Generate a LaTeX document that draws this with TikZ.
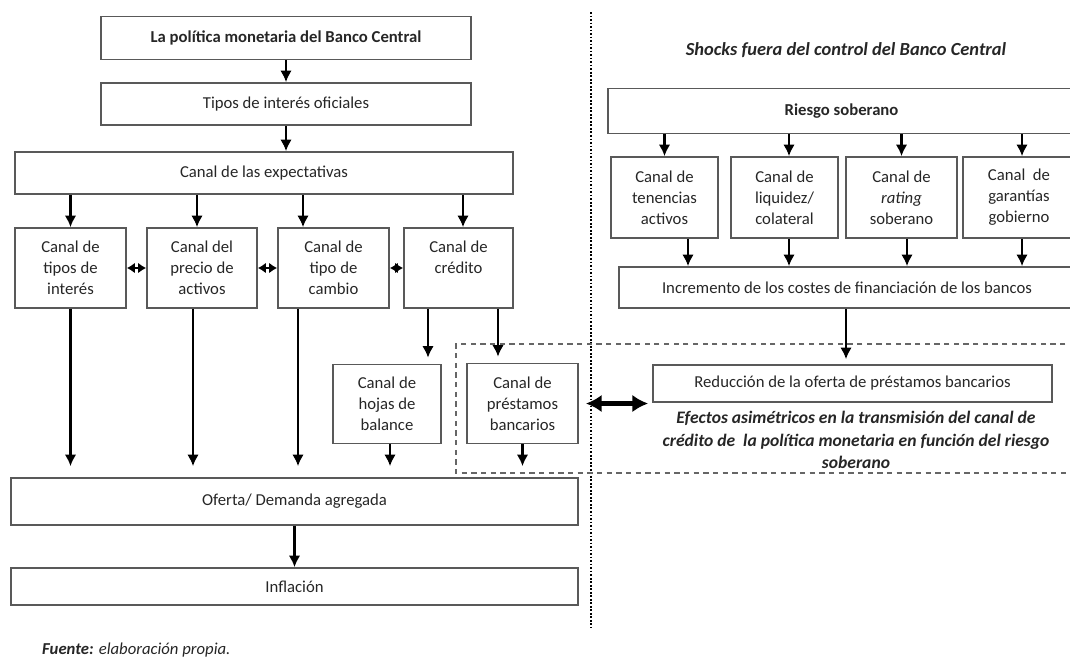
\documentclass[tikz,border=0pt]{standalone}
\usepackage{fontspec}
\setmainfont{Carlito}
\usetikzlibrary{arrows.meta}

\tikzset{
  box/.style={draw=black!65, line width=1pt, align=center, inner sep=2pt,
    text=black!85, font=\fontsize{9.5}{12}\selectfont},
  boldbox/.style={box, font=\fontsize{9.5}{12}\selectfont\bfseries},
  arr/.style={-{Latex[length=6.5pt,width=6.5pt]}, line width=1.2pt},
  dblarr/.style={{Latex[length=4.5pt,width=6pt]}-{Latex[length=4.5pt,width=6pt]}, line width=1.2pt},
  bigarr/.style={{Latex[length=9pt,width=10pt]}-{Latex[length=9pt,width=10pt]}, line width=2.4pt},
  dashbox/.style={black!60, line width=1pt, dash pattern=on 3pt off 2.5pt},
  note/.style={align=center, text=black!85, font=\fontsize{10}{13}\selectfont\bfseries\itshape}
}

\begin{document}
\begin{tikzpicture}[x=0.02cm, y=-0.02cm]
\useasboundingbox (0,0) rectangle (1070,657);
\clip (0,0) rectangle (1070,657);

% left part: policy channels
\node[boldbox, minimum width=7.4cm, minimum height=0.86cm] (bc) at (286,38) {La política monetaria del Banco Central};
\node[box, minimum width=7.4cm, minimum height=0.84cm] (tio) at (286,104) {Tipos de interés oficiales};
\node[box, minimum width=9.96cm, minimum height=0.84cm] (exp) at (264,173) {Canal de las expectativas};

\node[box, minimum width=2.22cm, minimum height=1.6cm] (ctipos) at (70.5,268) {Canal de\\tipos de\\interés};
\node[box, minimum width=2.2cm, minimum height=1.6cm] (cprecio) at (202,268) {Canal del\\precio de\\activos};
\node[box, minimum width=2.22cm, minimum height=1.6cm] (ccambio) at (333.5,268) {Canal de\\tipo de\\cambio};
\node[box, minimum width=2.18cm, minimum height=1.6cm] (ccredito) at (458.5,268) {Canal de\\crédito\\\mbox{}};

\node[box, minimum width=2.16cm, minimum height=1.58cm] (hojas) at (387,404) {Canal de\\hojas de\\balance};
\node[box, minimum width=2.22cm, minimum height=1.6cm] (prestamos) at (522.5,403.5) {Canal de\\préstamos\\bancarios};

\node[box, minimum width=11.34cm, minimum height=0.94cm] (oferta) at (294.5,501.5) {Oferta/ Demanda agregada};
\node[box, minimum width=11.34cm, minimum height=0.74cm] (inflacion) at (294.5,586.5) {Inflación};

\node[anchor=west, text=black!85, font=\fontsize{9.5}{12}\selectfont\itshape] (fuente) at (36,650) {\textbf{Fuente:} elaboración propia.};

\draw[arr] (bc) -- (tio);
\draw[arr] (tio.south) -- (tio.south |- exp.north);
\draw[arr] (exp.south -| ctipos.north) -- (ctipos.north);
\draw[arr] ([xshift=-0.1cm]cprecio.north |- exp.south) -- ([xshift=-0.1cm]cprecio.north);
\draw[arr] ([xshift=-0.61cm]ccambio.north |- exp.south) -- ([xshift=-0.61cm]ccambio.north);
\draw[arr] ([xshift=0.09cm]ccredito.north |- exp.south) -- ([xshift=0.09cm]ccredito.north);

\draw[dblarr] (ctipos) -- (cprecio);
\draw[dblarr] (cprecio) -- (ccambio);
\draw[dblarr] (ccambio) -- (ccredito);

\draw[arr, shorten >=0.22cm] (ctipos.south) -- (ctipos.south |- oferta.north);
\draw[arr, shorten >=0.22cm] ([xshift=-0.18cm]cprecio.south) -- ([xshift=-0.18cm]cprecio.south |- oferta.north);
\draw[arr, shorten >=0.22cm] ([xshift=-0.71cm]ccambio.south) -- ([xshift=-0.71cm]ccambio.south |- oferta.north);
\draw[arr, shorten >=0.12cm] ([xshift=-0.61cm]ccredito.south) -- ([xshift=-0.61cm]ccredito.south |- hojas.north);
\draw[arr, shorten >=0.12cm] ([xshift=0.79cm]ccredito.south) -- ([xshift=0.79cm]ccredito.south |- prestamos.north);
\draw[arr, shorten >=0.22cm] ([xshift=0.06cm]hojas.south) -- ([xshift=0.06cm]hojas.south |- oferta.north);
\draw[arr, shorten >=0.22cm] (prestamos.south) -- (prestamos.south |- oferta.north);
\draw[arr] (oferta) -- (inflacion);

% separation line
\draw[line width=1pt, densely dotted] (591,12) -- (591,627);

% right part: sovereign risk shocks
\node[note, font=\fontsize{10.5}{13}\selectfont\bfseries\itshape] (shocks) at (846,50) {Shocks fuera del control del Banco Central};
\node[boldbox, minimum width=9.34cm, minimum height=0.9cm] (riesgo) at (841.5,111) {Riesgo soberano};

\node[box, minimum width=2.14cm, minimum height=1.62cm] (tenencias) at (664.5,197.5) {Canal de\\tenencias\\activos};
\node[box, minimum width=2.14cm, minimum height=1.62cm] (liquidez) at (784.5,197.5) {Canal de\\liquidez/\\colateral};
\node[box, minimum width=2.22cm, minimum height=1.62cm] (rating) at (901.5,197.5) {Canal de\\\textit{rating}\\soberano};
\node[box, minimum width=2.24cm, minimum height=1.62cm] (garantias) at (1019,197.5) {Canal ~de\\garantías\\gobierno};

\node[box, minimum width=9.12cm, minimum height=0.82cm] (incremento) at (847,287.5) {Incremento de los costes de financiación de los bancos};
\node[box, minimum width=7.98cm, minimum height=0.74cm] (reduccion) at (852.5,383.5) {Reducción de la oferta de préstamos bancarios};
\node[note] (efectos) at (856,440) {Efectos asimétricos en la transmisión del canal de\\crédito de ~la política monetaria en función del riesgo\\soberano};

\draw[arr] (riesgo.south -| tenencias.north) -- (tenencias.north);
\draw[arr] ([xshift=0.09cm]liquidez.north |- riesgo.south) -- ([xshift=0.09cm]liquidez.north);
\draw[arr] (riesgo.south -| rating.north) -- (rating.north);
\draw[arr] ([xshift=0.06cm]garantias.north |- riesgo.south) -- ([xshift=0.06cm]garantias.north);

\draw[arr] ([xshift=0.47cm]tenencias.south) -- ([xshift=0.47cm]tenencias.south |- incremento.north);
\draw[arr] ([xshift=0.09cm]liquidez.south) -- ([xshift=0.09cm]liquidez.south |- incremento.north);
\draw[arr] ([xshift=0.11cm]rating.south) -- ([xshift=0.11cm]rating.south |- incremento.north);
\draw[arr] ([xshift=0.06cm]garantias.south) -- ([xshift=0.06cm]garantias.south |- incremento.north);
\draw[arr, shorten >=0.1cm] ([xshift=-0.02cm]incremento.south) -- ([xshift=-0.02cm]incremento.south |- reduccion.north);

\draw[bigarr, shorten <=0.14cm, shorten >=0.08cm] (prestamos) -- (prestamos -| reduccion.west);

% asymmetric effects frame
\draw[dashbox] (1075,344) -- (456,344) -- (456,473) -- (1075,473);
\end{tikzpicture}
\end{document}
